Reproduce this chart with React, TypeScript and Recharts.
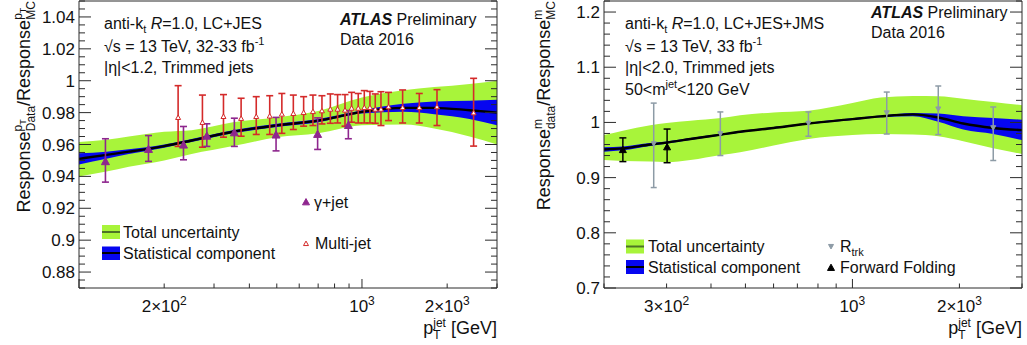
import React from 'react';
import { ComposedChart, Area, Line, Scatter, ErrorBar, XAxis, YAxis } from 'recharts';

const FONT = '"Liberation Sans", Arial, Helvetica, sans-serif';
const AXIS = '#2b2b2b';
const GREEN = '#a8f43a';
const BLUE = '#0606f0';
const PURPLE = '#8e268e';
const RED = '#d42a2a';
const GREY = '#8d9ba6';

// left panel: pT response ratio data/MC (bands)
const ptGrid = [100, 125, 150, 200, 250, 350, 500, 700, 1000, 1400, 1800, 2400, 3000];
const ptCentral = [0.951, 0.9535, 0.9555, 0.959, 0.9625, 0.968, 0.972, 0.975, 0.9805, 0.983, 0.983, 0.9815, 0.98];
const ptTotHi = [0.9615, 0.963, 0.965, 0.968, 0.969, 0.974, 0.977, 0.981, 0.9895, 0.994, 0.996, 0.998, 1.0];
const ptTotLo = [0.94, 0.943, 0.946, 0.95, 0.954, 0.959, 0.9645, 0.967, 0.972, 0.9725, 0.97, 0.965, 0.96];
const ptStatHi = [0.9545, 0.9555, 0.957, 0.96, 0.9635, 0.969, 0.973, 0.976, 0.9815, 0.9855, 0.987, 0.9875, 0.988];
const ptStatLo = [0.9475, 0.951, 0.954, 0.958, 0.9615, 0.967, 0.971, 0.974, 0.9795, 0.9805, 0.979, 0.976, 0.972];

// gamma+jet
const gjPt = [124, 176, 234, 283, 354, 497, 697, 895];
const gjVal = [0.9496, 0.9573, 0.96, 0.9656, 0.9677, 0.9663, 0.9667, 0.9723];
const gjLo = [0.9364, 0.9494, 0.9504, 0.9588, 0.9588, 0.956, 0.9569, 0.9636];
const gjHi = [0.9636, 0.9656, 0.9713, 0.973, 0.9765, 0.977, 0.9767, 0.9813];

// multi-jet
const mjPt = [224, 273, 324, 374, 423, 472, 521, 572, 622, 671, 722, 773, 820, 871, 919, 970, 1019, 1067, 1114, 1167, 1241, 1392, 1594, 1841, 2480];
const mjVal = [0.9771, 0.974, 0.9777, 0.9765, 0.9777, 0.978, 0.9792, 0.9796, 0.9802, 0.9808, 0.9813, 0.9823, 0.9823, 0.9817, 0.9829, 0.9829, 0.9833, 0.9833, 0.9823, 0.9823, 0.9838, 0.9833, 0.9833, 0.9838, 0.98];
const mjLo = [0.9588, 0.9583, 0.9646, 0.9652, 0.9663, 0.9663, 0.967, 0.9694, 0.9715, 0.9719, 0.9729, 0.9733, 0.9735, 0.9715, 0.974, 0.9735, 0.9735, 0.9735, 0.9733, 0.9719, 0.975, 0.9735, 0.9735, 0.9719, 0.959];
const mjHi = [0.9969, 0.991, 0.9913, 0.989, 0.99, 0.9906, 0.992, 0.991, 0.99, 0.991, 0.9906, 0.9917, 0.9913, 0.9913, 0.9927, 0.992, 0.9938, 0.9933, 0.9917, 0.9931, 0.9927, 0.9942, 0.992, 0.9944, 1.0015];

// right panel: mass response ratio (bands)
const mGrid = [200, 226, 270, 300, 350, 427, 483, 600, 752, 1000, 1200, 1480, 1744, 2050, 2490, 3000];
const mCentral = [0.951, 0.953, 0.96, 0.9635, 0.97, 0.978, 0.983, 0.99, 0.998, 1.006, 1.011, 1.0145, 1.009, 0.998, 0.99, 0.986];
const mTotHi = [0.977, 0.985, 0.995, 0.999, 1.003, 1.008, 1.013, 1.018, 1.021, 1.035, 1.045, 1.048, 1.0475, 1.043, 1.037, 1.031];
const mTotLo = [0.932, 0.93, 0.929, 0.928, 0.932, 0.941, 0.946, 0.958, 0.97, 0.977, 0.979, 0.978, 0.975, 0.966, 0.953, 0.943];
const mStatHi = [0.955, 0.9565, 0.9625, 0.9655, 0.972, 0.9795, 0.9845, 0.9915, 0.9995, 1.0075, 1.0125, 1.017, 1.016, 1.011, 1.008, 1.005];
const mStatLo = [0.947, 0.9495, 0.9575, 0.9615, 0.968, 0.9765, 0.9815, 0.9885, 0.9965, 1.0045, 1.0095, 1.011, 1.001, 0.987, 0.979, 0.968];

// R_trk
const rtPt = [276, 425, 752, 1249, 1744, 2490];
const rtVal = [0.961, 0.979, 0.998, 1.017, 1.024, 0.99];
const rtLo = [0.882, 0.94, 0.975, 0.979, 0.978, 0.931];
const rtHi = [1.035, 1.019, 1.019, 1.055, 1.066, 1.028];

// forward folding
const ffPt = [226, 301];
const ffVal = [0.951, 0.956];
const ffLo = [0.929, 0.927];
const ffHi = [0.972, 0.988];

// axes
const ptXTicks = [100, 200, 300, 400, 500, 600, 700, 800, 900, 1000, 2000, 3000];
const mXTicks = [200, 300, 400, 500, 600, 700, 800, 900, 1000, 2000, 3000];
const ptXLabels: Record<number, [string, string]> = { 200: ['2\u00d710', '2'], 1000: ['10', '3'], 2000: ['2\u00d710', '3'] };
const mXLabels: Record<number, [string, string]> = { 300: ['3\u00d710', '2'], 1000: ['10', '3'], 2000: ['2\u00d710', '3'] };
const ptYMajors = [0.88, 0.9, 0.92, 0.94, 0.96, 0.98, 1, 1.02, 1.04];
const mYMajors = [0.7, 0.8, 0.9, 1, 1.1, 1.2];

function steps(lo: number, hi: number, step: number) {
  const out: number[] = [];
  for (let v = lo; v <= hi + 1e-9; v += step) out.push(Number(v.toFixed(4)));
  return out;
}
const ptYTicks = steps(0.87, 1.05, 0.005);
const mYTicks = steps(0.7, 1.22, 0.02);

type BandRow = { pt: number; central: number; tot: [number, number]; stat: [number, number] };

function band(grid: number[], c: number[], tl: number[], th: number[], sl: number[], sh: number[]): BandRow[] {
  return grid.map((pt, i) => ({ pt, central: c[i], tot: [tl[i], th[i]], stat: [sl[i], sh[i]] }));
}
function points(pt: number[], val: number[], lo: number[], hi: number[]) {
  return pt.map((p, i) => ({ pt: p, v: val[i], e: [val[i] - lo[i], hi[i] - val[i]] }));
}

const ptBand = band(ptGrid, ptCentral, ptTotLo, ptTotHi, ptStatLo, ptStatHi);
const mBand = band(mGrid, mCentral, mTotLo, mTotHi, mStatLo, mStatHi);
const gjData = points(gjPt, gjVal, gjLo, gjHi);
const mjData = points(mjPt, mjVal, mjLo, mjHi);
const rtData = points(rtPt, rtVal, rtLo, rtHi);
const ffData = points(ffPt, ffVal, ffLo, ffHi);

const fmt = (v: number) => String(Number(v.toFixed(3)));

function xTick(side: 'bottom' | 'top', labels: Record<number, [string, string]>) {
  return (p: any) => {
    const v = p.payload.value as number;
    const lg = Math.log10(v);
    const len = Math.abs(lg - Math.round(lg)) < 1e-6 ? 9 : 4.5;
    const dir = side === 'bottom' ? -1 : 1;
    const lab = side === 'bottom' ? labels[v] : undefined;
    return (
      <g>
        <line x1={p.x} x2={p.x} y1={p.y} y2={p.y + dir * len} stroke={AXIS} />
        {lab && (
          <text x={p.x} y={p.y + 24} textAnchor="middle" fontSize={17} fill="#111" fontFamily={FONT}>
            {lab[0]}
            <tspan dy={-7} fontSize={12}>{lab[1]}</tspan>
          </text>
        )}
      </g>
    );
  };
}

function yTick(side: 'left' | 'right', majors: number[]) {
  return (p: any) => {
    const v = p.payload.value as number;
    const major = majors.some((m) => Math.abs(m - v) < 1e-6);
    const len = major ? 12 : 6;
    const dir = side === 'left' ? 1 : -1;
    return (
      <g>
        <line x1={p.x} x2={p.x + dir * len} y1={p.y} y2={p.y} stroke={AXIS} />
        {side === 'left' && major && (
          <text x={p.x - 4} y={p.y + 6} textAnchor="end" fontSize={17} fill="#111" fontFamily={FONT}>
            {fmt(v)}
          </text>
        )}
      </g>
    );
  };
}

const triUp = (color: string, size: number, open = false) => (p: any) => {
  const { cx, cy } = p;
  const h = size * 0.9;
  return (
    <polygon
      points={`${cx - size / 2},${cy + h / 2} ${cx + size / 2},${cy + h / 2} ${cx},${cy - h / 2}`}
      fill={open ? '#fff' : color}
      stroke={color}
      strokeWidth={1}
    />
  );
};
const triDown = (color: string, size: number) => (p: any) => {
  const { cx, cy } = p;
  const h = size * 0.9;
  return (
    <polygon
      points={`${cx - size / 2},${cy - h / 2} ${cx + size / 2},${cy - h / 2} ${cx},${cy + h / 2}`}
      fill={color}
      stroke={color}
      strokeWidth={1}
    />
  );
};

interface PanelProps {
  left: number;
  width: number;
  yAxisWidth: number;
  marginRight: number;
  xDomain: [number, number];
  yDomain: [number, number];
  xTicks: number[];
  xLabels: Record<number, [string, string]>;
  yTicks: number[];
  yMajors: number[];
  data: BandRow[];
  children: React.ReactNode;
}

function Panel(props: PanelProps) {
  const { left, width, yAxisWidth, marginRight, xDomain, yDomain, xTicks, xLabels, yTicks, yMajors, data, children } = props;
  return (
    <div style={{ position: 'absolute', left, top: 0 }}>
      <ComposedChart width={width} height={345} data={data} margin={{ top: 0, right: marginRight, bottom: 0, left: 0 }}>
        <XAxis
          dataKey="pt" type="number" scale="log" domain={xDomain} allowDataOverflow
          ticks={xTicks} interval={0} height={57} tickSize={0} tickMargin={0}
          tickLine={false} axisLine={{ stroke: AXIS }} tick={xTick('bottom', xLabels)}
        />
        <XAxis
          xAxisId="top" orientation="top" type="number" scale="log" domain={xDomain} allowDataOverflow
          ticks={xTicks} interval={0} height={1} tickSize={0} tickMargin={0}
          tickLine={false} axisLine={{ stroke: AXIS }} tick={xTick('top', {})}
        />
        <YAxis
          type="number" domain={yDomain} allowDataOverflow ticks={yTicks} interval={0}
          width={yAxisWidth} tickSize={0} tickMargin={0} tickLine={false}
          axisLine={{ stroke: AXIS }} tick={yTick('left', yMajors)}
        />
        <YAxis
          yAxisId="right" orientation="right" type="number" domain={yDomain} allowDataOverflow
          ticks={yTicks} interval={0} width={1} tickSize={0} tickMargin={0} tickLine={false}
          axisLine={{ stroke: AXIS }} tick={yTick('right', yMajors)}
        />
        <Area dataKey="tot" type="monotone" fill={GREEN} fillOpacity={1} stroke="none" isAnimationActive={false} activeDot={false} />
        <Area dataKey="stat" type="monotone" fill={BLUE} fillOpacity={1} stroke="none" isAnimationActive={false} activeDot={false} />
        <Line dataKey="central" type="monotone" stroke="#000" strokeWidth={2.4} dot={false} activeDot={false} isAnimationActive={false} />
        {children}
      </ComposedChart>
    </div>
  );
}

function Overlay() {
  const t = { fontFamily: FONT, fill: '#111' };
  return (
    <svg width={1027} height={345} style={{ position: 'absolute', left: 0, top: 0, pointerEvents: 'none' }}>
      {/* left panel labels */}
      <text x={104} y={29} fontSize={16} {...t}>
        anti-k<tspan dy={4} fontSize={11}>t</tspan>
        <tspan dy={-4}> </tspan><tspan fontStyle="italic">R</tspan>=1.0, LC+JES
      </text>
      <text x={104} y={52} fontSize={16} {...t}>
        {'\u221as = 13 TeV, 32-33 fb'}<tspan dy={-7} fontSize={11}>-1</tspan>
      </text>
      <text x={104} y={73} fontSize={16} {...t}>|&#951;|&lt;1.2, Trimmed jets</text>
      <text x={340} y={25} fontSize={16} {...t}>
        <tspan fontWeight="bold" fontStyle="italic">ATLAS</tspan> Preliminary
      </text>
      <text x={340} y={45} fontSize={16} {...t}>Data 2016</text>

      <rect x={102} y={225} width={18} height={14} fill={GREEN} />
      <line x1={102} x2={120} y1={232} y2={232} stroke="#4d7326" strokeWidth={2} />
      <rect x={102} y={246.5} width={18} height={13.5} fill={BLUE} />
      <line x1={102} x2={120} y1={253} y2={253} stroke="#000" strokeWidth={2} />
      <text x={123} y={237.5} fontSize={16} {...t}>Total uncertainty</text>
      <text x={123} y={258.5} fontSize={16} {...t}>Statistical component</text>
      {triUp(PURPLE, 7)({ cx: 306, cy: 201.7 })}
      <text x={314} y={207.5} fontSize={16} {...t}>&#947;+jet</text>
      {triUp(RED, 5, true)({ cx: 306, cy: 243.3 })}
      <text x={315} y={249} fontSize={16} {...t}>Multi-jet</text>

      <text transform="translate(30,1) rotate(-90)" textAnchor="end" fontSize={18} {...t}>
        Response
        <tspan dy={-8} fontSize={12}>p</tspan>
        <tspan dy={4} fontSize={9}>T</tspan>
        <tspan dx={-12} dy={9} fontSize={12}>Data</tspan>
        <tspan dy={-5}>/Response</tspan>
        <tspan dy={-8} fontSize={12}>p</tspan>
        <tspan dy={4} fontSize={9}>T</tspan>
        <tspan dx={-12} dy={9} fontSize={12}>MC</tspan>
      </text>
      <text x={497} y={334} textAnchor="end" fontSize={18} {...t}>
        p<tspan dy={-7} fontSize={12}>jet</tspan>
        <tspan dx={-12.7} dy={12} fontSize={12}>T</tspan>
        <tspan dx={5.4} dy={-5}> [GeV]</tspan>
      </text>

      {/* right panel labels */}
      <text x={625} y={29} fontSize={16} {...t}>
        anti-k<tspan dy={4} fontSize={11}>t</tspan>
        <tspan dy={-4}> </tspan><tspan fontStyle="italic">R</tspan>=1.0, LC+JES+JMS
      </text>
      <text x={625} y={52} fontSize={16} {...t}>
        {'\u221as = 13 TeV, 33 fb'}<tspan dy={-7} fontSize={11}>-1</tspan>
      </text>
      <text x={625} y={73} fontSize={16} {...t}>|&#951;|&lt;2.0, Trimmed jets</text>
      <text x={625} y={95} fontSize={16} {...t}>
        50&lt;m<tspan dy={-7} fontSize={11}>jet</tspan><tspan dy={7}>&lt;120 GeV</tspan>
      </text>
      <text x={871} y={18} fontSize={16} {...t}>
        <tspan fontWeight="bold" fontStyle="italic">ATLAS</tspan> Preliminary
      </text>
      <text x={871} y={38} fontSize={16} {...t}>Data 2016</text>

      <rect x={626} y={239.5} width={18} height={14} fill={GREEN} />
      <line x1={626} x2={644} y1={246.5} y2={246.5} stroke="#4d7326" strokeWidth={2} />
      <rect x={626} y={260} width={18} height={14} fill={BLUE} />
      <line x1={626} x2={644} y1={267} y2={267} stroke="#000" strokeWidth={2} />
      <text x={648} y={251.8} fontSize={16} {...t}>Total uncertainty</text>
      <text x={648} y={272.5} fontSize={16} {...t}>Statistical component</text>
      {triDown(GREY, 5)({ cx: 831, cy: 246.7 })}
      <text x={840} y={252} fontSize={16} {...t}>
        R<tspan dy={4} fontSize={11}>trk</tspan>
      </text>
      {triUp('#000', 7)({ cx: 831, cy: 267.3 })}
      <text x={840} y={272.8} fontSize={16} {...t}>Forward Folding</text>

      <text transform="translate(550,1) rotate(-90)" textAnchor="end" fontSize={18} {...t}>
        Response
        <tspan dy={-8} fontSize={12}>m</tspan>
        <tspan dx={-10} dy={13} fontSize={12}>data</tspan>
        <tspan dy={-5}>/Response</tspan>
        <tspan dy={-8} fontSize={12}>m</tspan>
        <tspan dx={-10} dy={13} fontSize={12}>MC</tspan>
      </text>
      <text x={1022} y={334} textAnchor="end" fontSize={18} {...t}>
        p<tspan dy={-7} fontSize={12}>jet</tspan>
        <tspan dx={-12.7} dy={12} fontSize={12}>T</tspan>
        <tspan dx={5.4} dy={-5}> [GeV]</tspan>
      </text>
    </svg>
  );
}

export default function App() {
  return (
    <div style={{ position: 'absolute', left: 0, top: 0, width: 1027, height: 345, background: '#fff', fontFamily: FONT }}>
      <Panel
        left={0} width={510} yAxisWidth={79} marginRight={12}
        xDomain={[100, 3000]} yDomain={[0.87, 1.05]}
        xTicks={ptXTicks} xLabels={ptXLabels} yTicks={ptYTicks} yMajors={ptYMajors} data={ptBand}
      >
        <Scatter data={mjData} dataKey="v" isAnimationActive={false} shape={triUp(RED, 5, true)}>
          <ErrorBar dataKey="e" direction="y" width={3.5} stroke={RED} strokeWidth={1.6} />
        </Scatter>
        <Scatter data={gjData} dataKey="v" isAnimationActive={false} shape={triUp(PURPLE, 8)}>
          <ErrorBar dataKey="e" direction="y" width={3.5} stroke={PURPLE} strokeWidth={1.6} />
        </Scatter>
      </Panel>
      <Panel
        left={510} width={517} yAxisWidth={94} marginRight={4}
        xDomain={[200, 3000]} yDomain={[0.7, 1.22]}
        xTicks={mXTicks} xLabels={mXLabels} yTicks={mYTicks} yMajors={mYMajors} data={mBand}
      >
        <Scatter data={rtData} dataKey="v" isAnimationActive={false} shape={triDown(GREY, 5)}>
          <ErrorBar dataKey="e" direction="y" width={3} stroke={GREY} strokeWidth={1.5} />
        </Scatter>
        <Scatter data={ffData} dataKey="v" isAnimationActive={false} shape={triUp('#000', 7)}>
          <ErrorBar dataKey="e" direction="y" width={3.5} stroke="#000" strokeWidth={1.5} />
        </Scatter>
      </Panel>
      <Overlay />
    </div>
  );
}
